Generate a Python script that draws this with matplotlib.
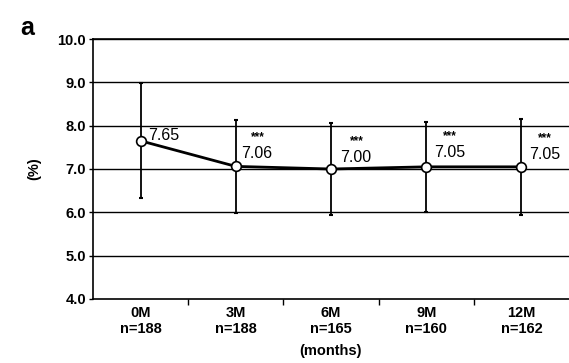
import matplotlib
matplotlib.use("Agg")
import matplotlib.pyplot as plt
from matplotlib.ticker import FixedLocator

categories = ["0M", "3M", "6M", "9M", "12M"]
n_values = [188, 188, 165, 160, 162]
means = [7.65, 7.06, 7.00, 7.05, 7.05]
sds = [1.33, 1.07, 1.07, 1.04, 1.10]
stars = ["", "***", "***", "***", "***"]
yticks = [4.0, 5.0, 6.0, 7.0, 8.0, 9.0, 10.0]

plt.rcParams['font.family'] = ['Liberation Sans', 'DejaVu Sans']

fig = plt.figure(figsize=(5.69, 3.63), dpi=100)
ax = fig.add_axes([93/569, 1-299/363, 476/569, 260/363])

x = list(range(len(categories)))
for y in yticks[1:]:
    ax.axhline(y, color='black', lw=1.0, zorder=1)

ax.errorbar(x, means, yerr=sds, fmt='none', ecolor='black', elinewidth=1.3,
            capsize=1.5, capthick=1.5, zorder=2)
ax.plot(x, means, color='black', lw=2.0, marker='o', markersize=7,
        markerfacecolor='white', markeredgecolor='black', markeredgewidth=1.2, zorder=3)

# value labels
label_offsets = [(0.08, 0.13), (0.06, 0.30), (0.1, 0.26), (0.08, 0.32), (0.08, 0.28)]
for i, (m, s) in enumerate(zip(means, stars)):
    dx, dy = label_offsets[i]
    ax.text(i + dx, m + dy, f"{m:.2f}", ha='left', va='center', fontsize=11.5, zorder=4)
    if s:
        ax.text(i + dx + 0.17, m + dy + 0.38, s, ha='center', va='center', fontsize=8.5, fontweight='bold', zorder=4)

ax.set_xlim(-0.5, 4.5)
ax.set_ylim(4.0, 10.0)
ax.set_yticks(yticks)
ax.set_yticklabels([f"{v:.1f}" for v in yticks], fontsize=10.5, fontweight='bold')
ax.set_xticks(x)
ax.set_xticklabels([f"{c}\nn={n}" for c, n in zip(categories, n_values)], fontsize=10.5,
                   fontweight='bold', linespacing=1.15)
ax.tick_params(axis='x', which='major', length=0, pad=5)
ax.xaxis.set_minor_locator(FixedLocator([0.5, 1.5, 2.5, 3.5]))
ax.tick_params(axis='x', which='minor', length=4, width=1.0, direction='out')
ax.tick_params(axis='y', length=3, width=1.0, direction='out', pad=2)
ax.set_xlabel("(months)", fontsize=10.5, fontweight='bold', labelpad=6)
ax.set_ylabel("(%)", fontsize=10.5, fontweight='bold', labelpad=12)

ax.spines['right'].set_visible(False)
for sp in ['left', 'bottom', 'top']:
    ax.spines[sp].set_linewidth(1.2)

fig.text(20/569, 1-28/363, "a", fontsize=18, fontweight='bold', ha='left', va='center')

fig.savefig("out.png", dpi=100)
